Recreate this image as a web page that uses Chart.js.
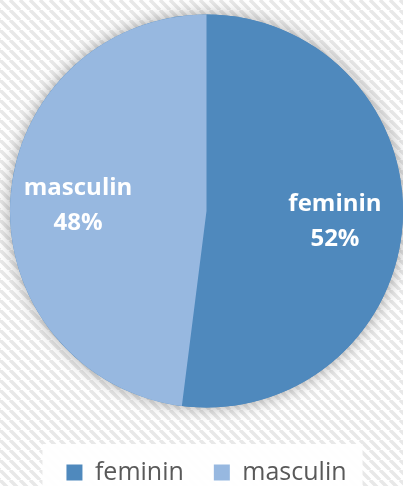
<!DOCTYPE html>
<html>
<head>
<meta charset="utf-8">
<script src="https://cdn.jsdelivr.net/npm/chart.js@4.4.0/dist/chart.umd.min.js"></script>
<style>
  html, body { margin: 0; padding: 0; background: #fff; }
  #wrap { width: 403px; height: 486px; position: relative; }
</style>
</head>
<body>
<div id="wrap"><canvas id="myChart"></canvas></div>
<script>
// data
const categorias = ['feminin', 'masculin'];
const procente = [52, 48];
const culori = ['#4f89bd', '#97b8e0'];

// fundal cu dungi + umbra pie + fundal alb la legenda
const fundal = {
  id: 'fundal',
  beforeDraw(chart) {
    const ctx = chart.ctx;
    const p = document.createElement('canvas');
    p.width = 10; p.height = 10;
    const pc = p.getContext('2d');
    pc.fillStyle = '#ffffff';
    pc.fillRect(0, 0, 10, 10);
    pc.strokeStyle = '#e8e8e8';
    pc.lineWidth = 3.5;
    for (let k = -10; k <= 20; k += 10) {
      pc.beginPath();
      pc.moveTo(k, 0);
      pc.lineTo(k + 10, 10);
      pc.stroke();
    }
    ctx.save();
    ctx.fillStyle = ctx.createPattern(p, 'repeat');
    ctx.fillRect(0, 0, chart.width, chart.height);

    // fundal alb pentru legenda
    const hb = chart.legend.legendHitBoxes;
    if (hb && hb.length) {
      const l = Math.min(...hb.map(h => h.left)) - 24;
      const r = Math.max(...hb.map(h => h.left + h.width)) + 16;
      const t = Math.min(...hb.map(h => h.top)) - 16;
      ctx.fillStyle = 'rgba(255,255,255,0.92)';
      ctx.fillRect(l, t, r - l, chart.height - t);
    }
    ctx.restore();
  },
  beforeDatasetsDraw(chart) {
    const arc = chart.getDatasetMeta(0).data[0];
    if (!arc) return;
    const ctx = chart.ctx;
    ctx.save();
    ctx.shadowColor = 'rgba(0,0,0,0.35)';
    ctx.shadowBlur = 16;
    ctx.fillStyle = culori[0];
    ctx.beginPath();
    ctx.arc(arc.x, arc.y, arc.outerRadius, 0, Math.PI * 2);
    ctx.fill();
    ctx.restore();
  }
};

// etichete pe felii
const etichete = {
  id: 'etichete',
  afterDatasetsDraw(chart) {
    const ctx = chart.ctx;
    const meta = chart.getDatasetMeta(0);
    ctx.save();
    ctx.fillStyle = '#ffffff';
    ctx.font = 'bold 24px "Open Sans"';
    ctx.textAlign = 'center';
    ctx.textBaseline = 'middle';
    meta.data.forEach((arc, i) => {
      const mid = (arc.startAngle + arc.endAngle) / 2;
      const d = arc.outerRadius * 0.655;
      const x = arc.x + Math.cos(mid) * d;
      const y = arc.y + Math.sin(mid) * d + 2;
      ctx.fillText(categorias[i], x, y - 17);
      ctx.fillText(procente[i] + '%', x, y + 18);
    });
    ctx.restore();
  }
};

let ctx = document.getElementById('myChart').getContext('2d');
let myChart = new Chart(ctx, {
  type: 'pie',
  data: {
    labels: categorias,
    datasets: [{
      data: procente,
      backgroundColor: culori,
      borderWidth: 0
    }]
  },
  options: {
    responsive: true,
    maintainAspectRatio: false,
    animation: false,
    layout: { padding: { top: 12, left: 10, right: 0, bottom: -9 } },
    plugins: {
      tooltip: { enabled: false },
      legend: {
        display: true,
        position: 'bottom',
        title: { display: true, text: '', font: { size: 10 }, padding: { top: 8, bottom: 0 } },
        labels: {
          boxWidth: 16,
          boxHeight: 16,
          padding: 30,
          color: '#595959',
          font: { family: 'Open Sans', size: 25 }
        }
      }
    }
  },
  plugins: [fundal, etichete]
});
</script>
</body>
</html>
